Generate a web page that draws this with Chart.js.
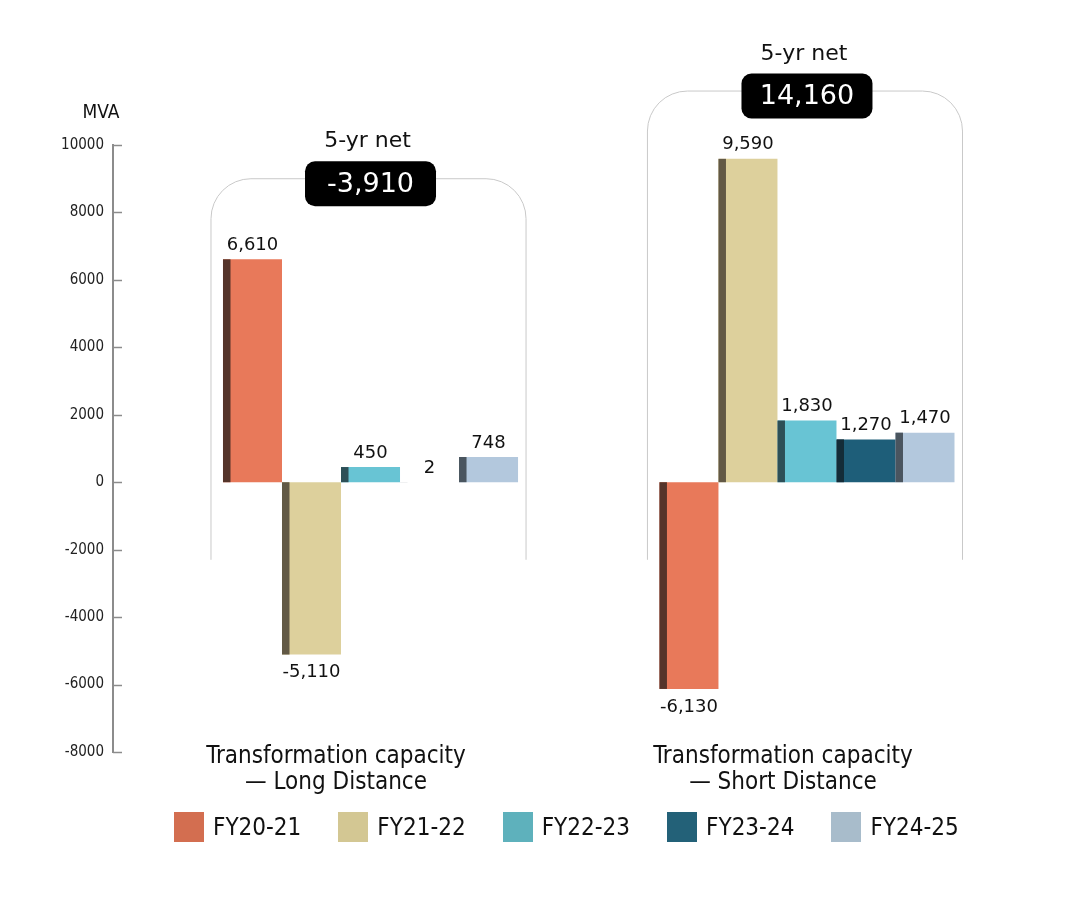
<!DOCTYPE html>
<html>
<head>
<meta charset="utf-8">
<script src="https://cdn.jsdelivr.net/npm/chart.js@4.4.1/dist/chart.umd.min.js"></script>
<style>
  body { margin: 0; background: #fff; }
  #wrap { position: relative; width: 1081px; height: 911px; }
  #chart { position: absolute; left: 0; top: 0; }
  #legend {
    position: absolute; left: 174px; top: 812px;
    display: flex; gap: 37px;
    font-family: 'DejaVu Sans Condensed', 'DejaVu Sans', sans-serif;
    font-size: 24px; color: #111;
  }
  .item { display: flex; align-items: center; height: 30px; }
  .box { width: 30px; height: 30px; margin-right: 9px; }
</style>
</head>
<body>
<div id="wrap">
  <canvas id="chart" width="1081" height="911"></canvas>
  <div id="legend"></div>
</div>
<script>
// data
const categories = [
    ['Transformation capacity', '\u2014 Long Distance'],
    ['Transformation capacity', '\u2014 Short Distance']
];
const years  = ['FY20-21', 'FY21-22', 'FY22-23', 'FY23-24', 'FY24-25'];
const fy2021 = [6610, -6130];
const fy2122 = [-5110, 9590];
const fy2223 = [450, 1830];
const fy2324 = [2, 1270];
const fy2425 = [748, 1470];
const netFiveYear = [-3910, 14160];
const series = [fy2021, fy2122, fy2223, fy2324, fy2425];

// colours
const barColors    = ['#E8795A', '#DDD09C', '#68C4D4', '#1E5E79', '#B3C8DD'];
const sideColors   = ['#55342A', '#625945', '#2D4F57', '#142C38', '#4A555F'];
const legendColors = ['#D36E50', '#D3C793', '#5EB1BC', '#236178', '#A8BCCB'];
const axisColor = '#8c8c8c';

// fonts
const plainFont  = "'DejaVu Sans', sans-serif";
const narrowFont = "'DejaVu Sans Condensed', 'DejaVu Sans', sans-serif";

const fmt = v => v.toLocaleString('en-US');

// side strips, labels, brackets
const groupMarks = {
    id: 'groupMarks',
    beforeDatasetsDraw(chart, args, opts) {
        const ctx = chart.ctx;
        const y = chart.scales.y;
        const first = chart.getDatasetMeta(0).data;
        const last = chart.getDatasetMeta(series.length - 1).data;
        ctx.save();
        ctx.strokeStyle = '#c9c9c9';
        ctx.lineWidth = 1;
        categories.forEach((c, j) => {
            const left = first[j].x - first[j].width / 2 - 12;
            const right = last[j].x + last[j].width / 2 + 8;
            const top = y.getPixelForValue(opts.tops[j]);
            const bottom = y.getPixelForValue(opts.bottom);
            const r = 40;
            ctx.beginPath();
            ctx.moveTo(left, bottom);
            ctx.lineTo(left, top + r);
            ctx.arcTo(left, top, left + r, top, r);
            ctx.lineTo(right - r, top);
            ctx.arcTo(right, top, right, top + r, r);
            ctx.lineTo(right, bottom);
            ctx.stroke();
        });
        ctx.restore();
    },
    afterDatasetsDraw(chart, args, opts) {
        const ctx = chart.ctx;
        const y = chart.scales.y;
        const area = chart.chartArea;
        ctx.save();

        // darker left face of each bar
        series.forEach((vals, i) => {
            chart.getDatasetMeta(i).data.forEach(el => {
                const x0 = el.x - el.width / 2;
                const t = Math.min(el.y, el.base);
                const h = Math.abs(el.base - el.y);
                ctx.fillStyle = sideColors[i];
                ctx.fillRect(x0, t, 7.5, h);
            });
        });

        // value labels
        ctx.font = '18px ' + plainFont;
        ctx.fillStyle = '#111';
        ctx.textAlign = 'center';
        ctx.textBaseline = 'middle';
        series.forEach((vals, i) => {
            chart.getDatasetMeta(i).data.forEach((el, j) => {
                const v = vals[j];
                const ty = v >= 0 ? el.y - 14 : el.y + 18;
                ctx.fillText(fmt(v), el.x, ty);
            });
        });

        // inward y ticks
        ctx.strokeStyle = axisColor;
        ctx.lineWidth = 1.5;
        y.ticks.forEach(t => {
            const py = Math.round(y.getPixelForValue(t.value)) + 0.5;
            ctx.beginPath();
            ctx.moveTo(area.left, py);
            ctx.lineTo(area.left + 9, py);
            ctx.stroke();
        });

        // unit
        ctx.font = '19px ' + narrowFont;
        ctx.fillStyle = '#111';
        ctx.fillText('MVA', area.left - 12, area.top - 32);

        // 5-yr net pills
        const first = chart.getDatasetMeta(0).data;
        const last = chart.getDatasetMeta(series.length - 1).data;
        netFiveYear.forEach((net, j) => {
            const cx = (first[j].x - first[j].width / 2 + last[j].x + last[j].width / 2) / 2;
            const top = y.getPixelForValue(opts.tops[j]);
            const cy = top + 5;
            ctx.font = '22px ' + plainFont;
            ctx.fillStyle = '#111';
            ctx.fillText('5-yr net', cx - 3, top - 37);
            const w = 131, h = 45;
            ctx.fillStyle = '#000';
            ctx.beginPath();
            ctx.roundRect(cx - w / 2, cy - h / 2, w, h, 10);
            ctx.fill();
            ctx.font = '27px ' + plainFont;
            ctx.fillStyle = '#fff';
            ctx.fillText(fmt(net), cx, cy + 1);
        });
        ctx.restore();
    }
};

const datasets = years.map((name, i) => ({
    label: name,
    data: series[i].map((v, j) => ({ x: j + 1, y: v })),
    backgroundColor: barColors[i],
    borderWidth: 0,
    categoryPercentage: 0.676,
    barPercentage: 1
}));

new Chart(document.getElementById('chart'), {
    type: 'bar',
    data: { datasets: datasets },
    plugins: [groupMarks],
    options: {
        responsive: false,
        animation: false,
        layout: { padding: { top: 145, right: 75, bottom: 99, left: 0 } },
        plugins: {
            legend: { display: false },
            tooltip: { enabled: false },
            groupMarks: { tops: [9000, 11600], bottom: -2300 }
        },
        scales: {
            x: {
                type: 'linear',
                offset: false,
                bounds: 'data',
                min: 0.41,
                max: 2.456,
                afterBuildTicks: s => { s.ticks = [{ value: 0.921 }, { value: 1.945 }]; },
                afterFit: s => { s.height = 60; },
                grid: { display: false, drawTicks: false, offset: false },
                border: { display: false },
                ticks: {
                    autoSkip: false,
                    maxRotation: 0,
                    mirror: true,
                    padding: -18,
                    color: '#111',
                    font: { family: narrowFont, size: 24, lineHeight: 26 / 24 },
                    callback: (v, i) => categories[i]
                }
            },
            y: {
                min: -8000,
                max: 10000,
                afterFit: s => { s.width = 113; },
                grid: { display: false, drawTicks: false },
                border: { display: true, color: axisColor, width: 2 },
                ticks: {
                    stepSize: 2000,
                    padding: 9,
                    color: '#222',
                    font: { family: narrowFont, size: 15 },
                    callback: v => String(v)
                }
            }
        }
    }
});

// legend
const legend = document.getElementById('legend');
years.forEach((name, i) => {
    const item = document.createElement('div');
    item.className = 'item';
    const box = document.createElement('div');
    box.className = 'box';
    box.style.background = legendColors[i];
    const label = document.createElement('span');
    label.textContent = name;
    item.appendChild(box);
    item.appendChild(label);
    legend.appendChild(item);
});
</script>
</body>
</html>
